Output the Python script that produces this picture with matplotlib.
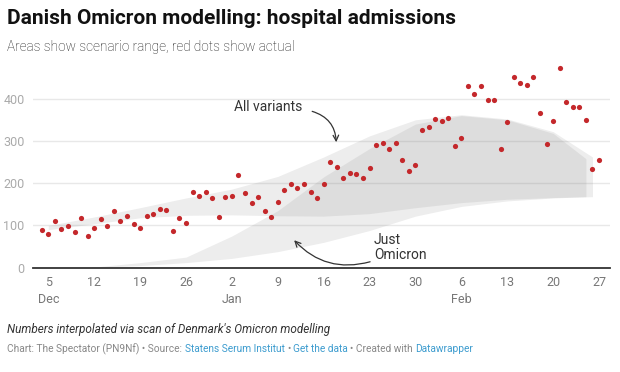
#!/usr/bin/env python3
"""
Danish Omicron modelling: hospital admissions (scenario ranges vs actual)
"""

from datetime import datetime, timedelta

import matplotlib
matplotlib.use("Agg")
import matplotlib.pyplot as plt

plt.rcParams['font.family'] = ['Roboto', 'DejaVu Sans']

# actual admissions, one dot per day from 4 Dec 2021
first_day = datetime(2021, 12, 4)
actual = [
    89, 79, 111, 92, 99, 84, 118, 76, 94, 116, 99, 134, 111, 123, 104, 94,
    122, 128, 140, 137, 88, 117, 106,
    178, 170, 178, 164, 120, 168, 170, 219, 176, 153, 168, 135, 121, 155,
    184, 199, 188, 199, 178, 164, 198, 249, 239,
    213, 224, 221, 212, 235, 290, 294, 282, 296, 254, 229, 244, 326, 334,
    353, 346, 354, 288, 307,
    429, 410, 430, 398, 398, 282, 344, 451, 436, 432, 451, 367, 293, 346,
    473, 391, 380, 380, 350, 234, 255,
]
actual_dates = [first_day + timedelta(days=i) for i in range(len(actual))]

# "All variants" scenario range
all_dates = ["2021-12-05", "2021-12-12", "2021-12-19", "2021-12-26", "2022-01-02",
             "2022-01-09", "2022-01-16", "2022-01-23", "2022-01-30", "2022-02-06",
             "2022-02-13", "2022-02-20", "2022-02-26"]
all_low = [90, 104, 118, 124, 125, 123, 122, 128, 142, 154, 162, 166, 168]
all_high = [100, 120, 142, 165, 186, 216, 262, 312, 350, 362, 352, 322, 262]

# "Just Omicron" scenario range
omi_dates = ["2021-12-11", "2021-12-19", "2021-12-26", "2022-01-02", "2022-01-09",
             "2022-01-16", "2022-01-23", "2022-01-30", "2022-02-06", "2022-02-13",
             "2022-02-20", "2022-02-25"]
omi_low = [0, 5, 12, 22, 38, 60, 88, 122, 145, 158, 165, 168]
omi_high = [0, 12, 25, 75, 135, 215, 282, 340, 360, 350, 318, 258]

y_ticks = [0, 100, 200, 300, 400]
x_ticks = ["2021-12-05", "2021-12-12", "2021-12-19", "2021-12-26", "2022-01-02",
           "2022-01-09", "2022-01-16", "2022-01-23", "2022-01-30", "2022-02-06",
           "2022-02-13", "2022-02-20", "2022-02-27"]
x_tick_labels = ["5\nDec", "12", "19", "26", "2\nJan", "9", "16", "23", "30",
                 "6\nFeb", "13", "20", "27"]


def to_dt(days):
    return [datetime.strptime(d, "%Y-%m-%d") for d in days]


fig = plt.figure(figsize=(6.2, 3.72), dpi=100)
ax = fig.add_axes([0.0532, 0.2804, 0.9306, 0.5452])

# scenario areas, overlap shows darker
ax.fill_between(to_dt(all_dates), all_low, all_high, color='#808080', alpha=0.14,
                linewidth=0, zorder=1)
ax.fill_between(to_dt(omi_dates), omi_low, omi_high, color='#808080', alpha=0.14,
                linewidth=0, zorder=1)

ax.scatter(actual_dates, actual, s=14, color='#c4282b', linewidths=0, zorder=3,
           clip_on=False)

ax.set_xlim(datetime(2021, 12, 2, 16), datetime(2022, 2, 28, 16))
ax.set_ylim(0, 480)

ax.set_yticks(y_ticks)
ax.set_yticklabels([str(v) for v in y_ticks])
ax.set_xticks(to_dt(x_ticks))
ax.set_xticklabels(x_tick_labels, linespacing=1.35)
ax.tick_params(axis='y', length=0, pad=6, labelsize=9, labelcolor='#aaaaaa')
ax.tick_params(axis='x', length=0, pad=6, labelsize=9, labelcolor='#777777')
for lab in ax.get_xticklabels():
    lab.set_verticalalignment('top')
    lab.set_multialignment('center')

ax.grid(axis='y', color='#e8e8e8', linewidth=1, zorder=0)
ax.set_axisbelow(True)
for side in ['left', 'right', 'top']:
    ax.spines[side].set_visible(False)
ax.spines['bottom'].set_color('#333333')
ax.spines['bottom'].set_linewidth(1.3)
ax.spines['bottom'].set_zorder(4)

# annotations
ax.text(datetime(2022, 1, 7, 14), 380, "All variants", ha='center', va='center',
        fontsize=10, color='#333333')
ax.annotate("", xy=(datetime(2022, 1, 17, 22), 297), xytext=(datetime(2022, 1, 14, 6), 370),
            arrowprops=dict(arrowstyle='->', color='#333333', lw=0.9,
                            connectionstyle='arc3,rad=-0.35', shrinkA=0, shrinkB=0))

ax.text(datetime(2022, 1, 23, 16), 48, "Just\nOmicron", ha='left', va='center',
        fontsize=10, color='#333333', linespacing=1.1)
ax.annotate("", xy=(datetime(2022, 1, 11, 12), 65), xytext=(datetime(2022, 1, 23, 2), 14),
            arrowprops=dict(arrowstyle='->', color='#333333', lw=0.9,
                            connectionstyle='arc3,rad=-0.3', shrinkA=0, shrinkB=0))

# header
fig.text(7 / 620, 1 - 18 / 372, "Danish Omicron modelling: hospital admissions",
         ha='left', va='center', fontsize=15, fontweight='bold', color='#111111')
fig.text(7 / 620, 1 - 47 / 372, "Areas show scenario range, red dots show actual",
         ha='left', va='center', fontsize=9.8, fontweight='light', color='#1a1a1a')

# footer
fig.text(7 / 620, 1 - 330 / 372, "Numbers interpolated via scan of Denmark's Omicron modelling",
         ha='left', va='center', fontsize=8.5, style='italic', color='#333333')

grey, blue = '#888888', '#3d9ccf'
parts = [("Chart: The Spectator (PN9Nf) \u2022 Source: ", grey),
         ("Statens Serum Institut", blue),
         (" \u2022 ", grey),
         ("Get the data", blue),
         (" \u2022 Created with ", grey),
         ("Datawrapper", blue)]

# place each piece where it falls in the full line: measure the line up to and
# including the piece, then step back by the piece's own width
fig.canvas.draw()
renderer = fig.canvas.get_renderer()
x0 = 7
y_frac = 1 - 349 / 372


def width(s):
    probe = fig.text(0, 0, s, fontsize=7.3)
    w = probe.get_window_extent(renderer).width
    probe.remove()
    return w


prefix = ""
for txt, col in parts:
    prefix += txt
    core = txt.strip()
    end_px = x0 + width(prefix.rstrip())
    start_px = end_px - width(core)
    fig.text(start_px / fig.bbox.width, y_frac, core, ha='left', va='center',
             fontsize=7.3, color=col)

fig.savefig("out.png", dpi=100)
plt.close(fig)
